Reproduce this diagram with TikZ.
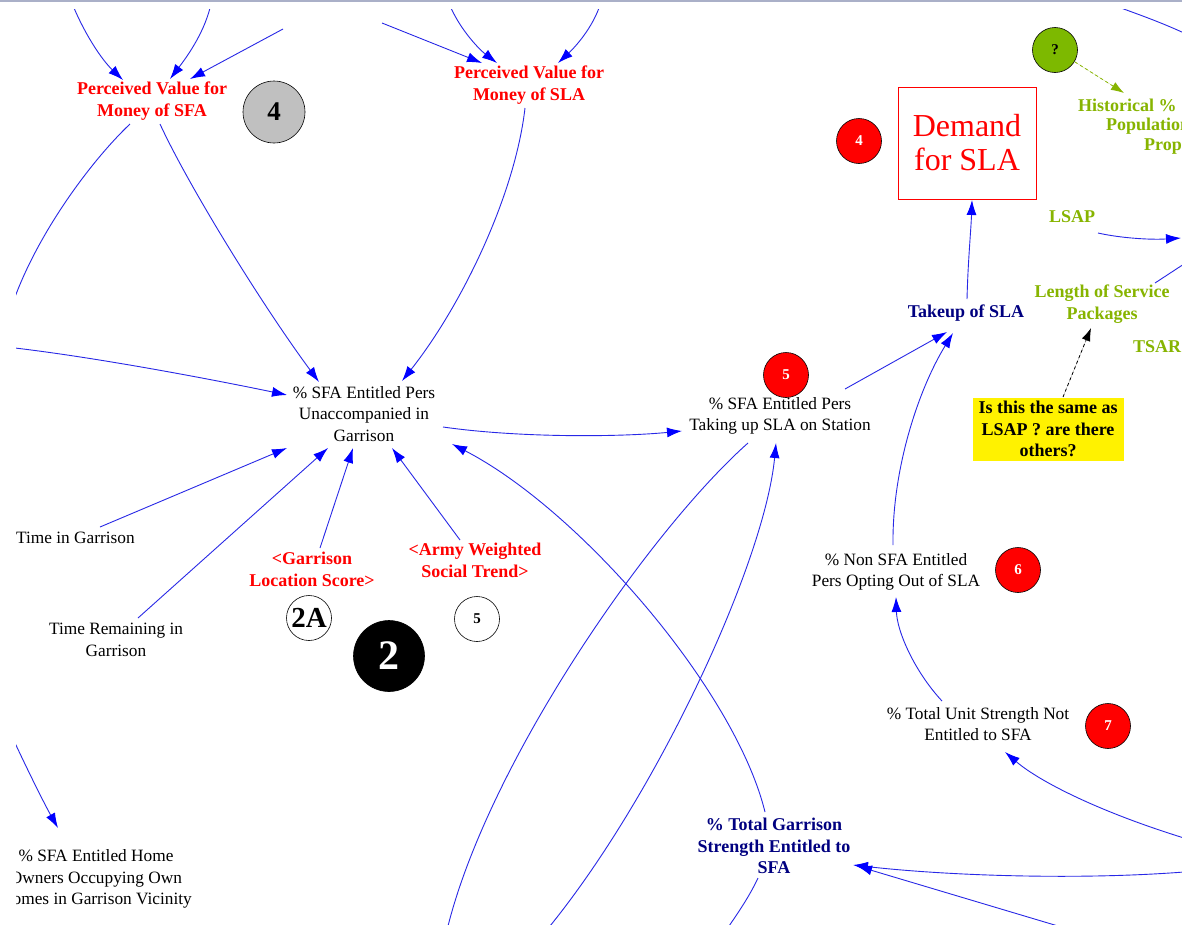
\documentclass[tikz,border=0pt]{standalone}
\usepackage{fontspec}
\setmainfont{Liberation Serif}
\usetikzlibrary{arrows.meta}
\definecolor{linkblue}{RGB}{40,40,230}
\definecolor{headblue}{RGB}{0,0,255}
\definecolor{vred}{RGB}{255,0,0}
\definecolor{vnavy}{RGB}{0,0,128}
\definecolor{vgreen}{RGB}{135,180,0}
\definecolor{ballgreen}{RGB}{125,185,0}
\definecolor{ballgray}{RGB}{192,192,192}
\definecolor{framegray}{RGB}{170,176,200}

\tikzset{
  lbl/.style={align=center, inner sep=0pt, font=\fontsize{17.3}{21.7}\selectfont},
  blbl/.style={align=center, inner sep=0pt, font=\fontsize{18}{21.7}\selectfont\bfseries},
  link/.style={draw=linkblue, line width=0.9pt, -{Latex[length=15pt,width=10pt,color=headblue]}},
  wire/.style={draw=linkblue, line width=0.9pt},
  hint/.style={line width=0.8pt, dash pattern=on 3pt off 3pt, -{Latex[length=13pt,width=9pt]}},
  badge/.style={circle, draw=black, line width=0.6pt, inner sep=0pt, minimum size=45pt,
                font=\fontsize{15}{15}\selectfont\bfseries},
}

\begin{document}
\begin{tikzpicture}[x=1pt,y=-1pt]
\useasboundingbox (0,0) rectangle (1182,924);
\fill[white] (0,0) rectangle (1182,924);
\fill[framegray] (0,0) rectangle (1182,2);

\begin{scope}
\clip (16,9) rectangle (1182,924);

% ---------- variables ----------
\node[blbl, text=vred] (pvsfa) at (152,101) {Perceived Value for\\Money of SFA};
\node[badge, fill=ballgray, minimum size=62pt, font=\fontsize{27}{27}\selectfont\bfseries] (b4g) at (274,112) {4};
\node[blbl, text=vred] (pvsla) at (529,85) {Perceived Value for\\Money of SLA};
\node[badge, fill=vred, text=white] (b4r) at (859,141) {4};
\node[draw=vred, line width=0.8pt, minimum width=138pt, minimum height=112pt, inner sep=0pt,
      align=center, text=vred, font=\fontsize{32}{34}\selectfont] (demand) at (967,143) {Demand\\for SLA};
\node[badge, fill=ballgreen] (bq) at (1055,50) {?};
\node[blbl, text=vgreen, anchor=west] (hist1) at (1078,105) {Historical \%};
\node[blbl, text=vgreen, anchor=west] (hist2) at (1106,126) {Population};
\node[blbl, text=vgreen, anchor=west] (hist3) at (1144,147) {Prop};
\node[blbl, text=vgreen] (lsap) at (1072,217) {LSAP};
\node[blbl, text=vgreen] (lsp) at (1102,304) {Length of Service\\Packages};
\node[blbl, text=vgreen, anchor=west] (tsar) at (1133,347) {TSAR};
\node[blbl, text=vnavy] (takeup) at (966,313) {Takeup of SLA};
\node[blbl, fill=yellow, minimum width=151pt, minimum height=63pt] (yq) at (1048,429)
      {Is this the same as\\LSAP ? are there\\others?};
\node[lbl] (sfat) at (780,416) {\% SFA Entitled Pers\\Taking up SLA on Station};
\node[badge, fill=vred, text=white] (b5r) at (786,375) {5};
\node[lbl] (sfau) at (364,414) {\% SFA Entitled Pers\\Unaccompanied in\\Garrison};
\node[lbl] (nonsfa) at (896,572) {\% Non SFA Entitled\\Pers Opting Out of SLA};
\node[badge, fill=vred, text=white] (b6r) at (1018,570) {6};
\node[lbl] (tusn) at (978,724) {\% Total Unit Strength Not\\Entitled to SFA};
\node[badge, fill=vred, text=white] (b7r) at (1108,726) {7};
\node[blbl, text=vnavy] (tgs) at (774,846) {\% Total Garrison\\Strength Entitled to\\SFA};
\node[lbl, anchor=west] (tig) at (16,538) {Time in Garrison};
\node[lbl] (trg) at (116,640) {Time Remaining in\\Garrison};
\node[blbl, text=vred] (gls) at (312,569) {<Garrison\\Location Score>};
\node[badge, fill=white, font=\fontsize{29}{29}\selectfont\bfseries] (b2a) at (309,618) {2A};
\node[badge, fill=black, text=white, minimum size=71pt, font=\fontsize{42}{42}\selectfont\bfseries] (b2) at (389,656) {2};
\node[blbl, text=vred] (awst) at (475,560) {<Army Weighted\\Social Trend>};
\node[badge, fill=white] (b5w) at (477,619) {5};
\node[lbl] (home) at (96,879) {\% SFA Entitled Home\\Owners Occupying Own\\Homes in Garrison Vicinity};

% ---------- free ends beyond the window ----------
\coordinate (t1) at (74,8);
\coordinate (t2) at (210,8);
\coordinate (t3) at (283,29);
\coordinate (t4) at (382,23);
\coordinate (t5) at (451,8);
\coordinate (t6) at (599,8);
\coordinate (l1) at (15,297);
\coordinate (l2) at (15,348);
\coordinate (l3) at (15,743);
\coordinate (b1) at (448,926);
\coordinate (b2e) at (550,926);
\coordinate (b3) at (729,926);
\coordinate (b4e) at (1058,926);
\coordinate (r1) at (1184,838);
\coordinate (r2) at (1184,872);
\coordinate (r3) at (1181,238);
\coordinate (r4) at (1184,264);
\coordinate (r5a) at (1121,8);
\coordinate (r5b) at (1184,33);

% ---------- links ----------
\draw[link] (t1) .. controls (86,36) and (102,60) .. ([shift={(-29,-21)}]pvsfa.center);
\draw[link] (t2) .. controls (203,35) and (186,58) .. ([shift={(18,-22)}]pvsfa.center);
\draw[link] (t3) -- ([shift={(38,-22)}]pvsfa.center);
\draw[link] (t4) -- ([shift={(-47,-22)}]pvsla.center);
\draw[link] (t5) .. controls (462,32) and (480,50) .. ([shift={(-32,-22)}]pvsla.center);
\draw[link] (t6) .. controls (590,32) and (572,50) .. ([shift={(29,-22)}]pvsla.center);

\draw[wire] ([shift={(-22,23)}]pvsfa.center) .. controls (92,160) and (40,230) .. (l1);
\draw[link] ([shift={(8,23)}]pvsfa.center) .. controls (188,185) and (262,305) .. ([shift={(-45,-32)}]sfau.center);
\draw[link] ([shift={(-4,23)}]pvsla.center) .. controls (515,195) and (462,305) .. ([shift={(38,-33)}]sfau.center);
\draw[link] (l2) .. controls (100,358) and (215,380) .. ([shift={(-77,-19)}]sfau.center);
\draw[link] ([shift={(84,-11)}]tig.west) -- ([shift={(-77,34)}]sfau.center);
\draw[link] ([shift={(22,-22)}]trg.center) -- ([shift={(-36,34)}]sfau.center);
\draw[link] ([shift={(8,-21)}]gls.center) -- ([shift={(-11,34)}]sfau.center);
\draw[link] ([shift={(-15,-20)}]awst.center) -- ([shift={(28,34)}]sfau.center);
\draw[link] ([shift={(-9,-34)}]tgs.center) .. controls (735,690) and (580,510) .. ([shift={(88,30)}]sfau.center);

\draw[link] ([shift={(79,13)}]sfau.center) .. controls (520,438) and (620,437) .. ([shift={(-98,15)}]sfat.center);
\draw[link] ([shift={(65,-27)}]sfat.center) -- ([shift={(-19,19)}]takeup.center);
\draw[wire] ([shift={(-32,27)}]sfat.center) .. controls (650,530) and (490,760) .. (b1);
\draw[link] (b2e) .. controls (660,790) and (765,560) .. ([shift={(-4,27)}]sfat.center);
\draw[link] ([shift={(1,-14)}]takeup.center) .. controls (968,260) and (971,230) .. ([shift={(5,57)}]demand.center);
\draw[link] ([shift={(-3,-27)}]nonsfa.center) .. controls (892,470) and (918,390) .. ([shift={(-13,20)}]takeup.center);
\draw[link] ([shift={(-36,-23)}]tusn.center) .. controls (915,672) and (897,632) .. ([shift={(0,25)}]nonsfa.center);
\draw[link] (r1) .. controls (1100,812) and (1040,782) .. ([shift={(27,28)}]tusn.center);
\draw[link] (r2) .. controls (1080,880) and (950,876) .. ([shift={(79,19)}]tgs.center);
\draw[link] (b4e) -- ([shift={(83,20)}]tgs.center);
\draw[wire] ([shift={(-16,32)}]tgs.center) .. controls (750,895) and (740,910) .. (b3);
\draw[link] (l3) .. controls (30,775) and (45,805) .. ([shift={(-38,-51)}]home.center);

\draw[link] ([shift={(26,16)}]lsap.center) .. controls (1120,238) and (1150,240) .. (r3);
\draw[wire] ([shift={(53,-21)}]lsp.center) -- (r4);
\draw[wire] (r5a) .. controls (1140,15) and (1160,22) .. (r5b);

\draw[hint, draw=vgreen, fill=vgreen] ([shift={(20,12)}]bq.center) -- ([shift={(46,-12)}]hist1.west);
\draw[hint, draw=black, fill=black] ([shift={(15,-32)}]yq.center) -- ([shift={(-11,24)}]lsp.center);
\end{scope}
\end{tikzpicture}
\end{document}
